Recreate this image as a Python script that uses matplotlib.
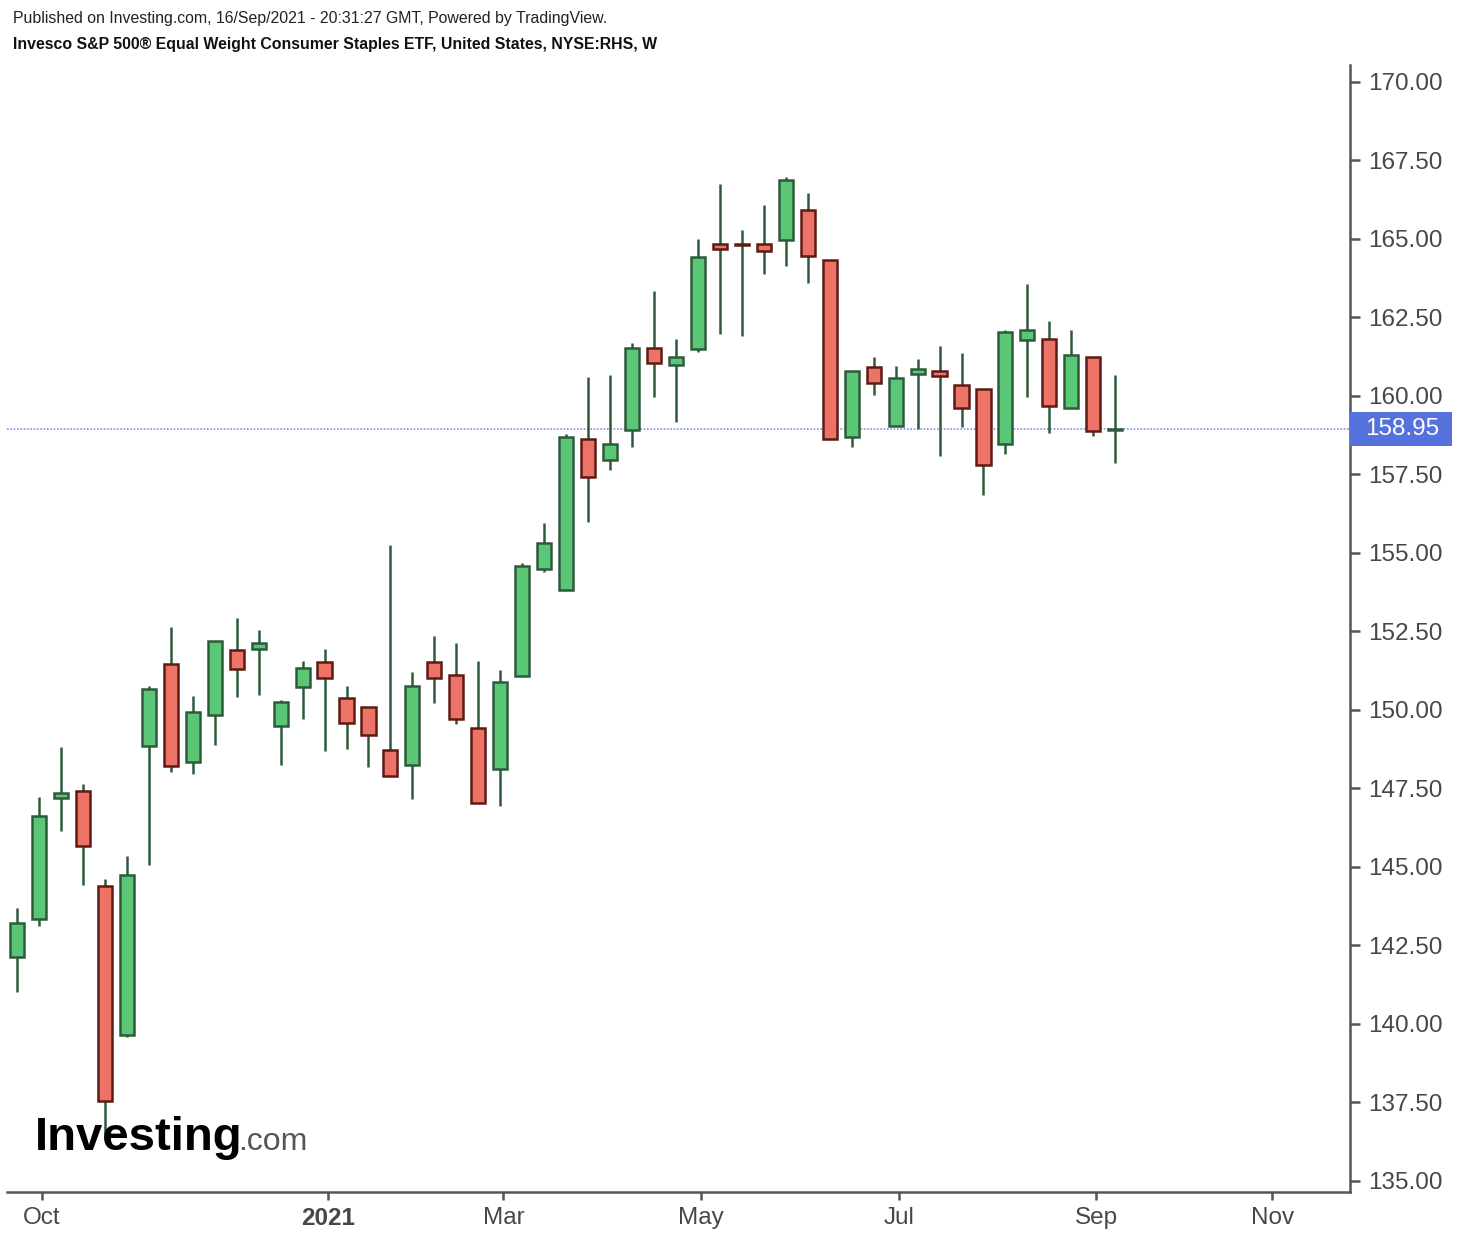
import numpy as np
import pandas as pd
import matplotlib
matplotlib.use('Agg')
import matplotlib.pyplot as plt
import matplotlib.dates as mdates
from matplotlib.patches import Rectangle

plt.rcParams['font.family'] = ['Liberation Sans', 'DejaVu Sans']

# weekly candles, RHS, Sep 2020 - Sep 2021
week_start = '2020-09-28'
opens = [142.13, 143.34, 147.20, 147.42, 144.39, 139.65, 148.85, 151.46, 148.34, 149.84,
         151.91, 151.94, 149.49, 150.73, 151.53, 150.38, 150.10, 148.73, 148.25, 151.53,
         151.11, 149.43, 148.12, 151.08, 154.49, 153.82, 158.63, 157.96, 158.92, 161.53,
         160.99, 161.50, 164.84, 164.84, 164.84, 164.97, 165.92, 164.33, 158.69, 160.92,
         159.04, 160.70, 160.80, 160.35, 160.22, 158.47, 161.78, 161.82, 159.62, 161.24,
         158.90]
highs = [143.69, 147.23, 148.82, 147.64, 144.62, 145.35, 150.76, 152.64, 150.45, 152.20,
         152.93, 152.55, 150.32, 151.56, 151.94, 150.76, 150.10, 155.25, 151.21, 152.36,
         152.13, 151.56, 151.27, 154.68, 155.96, 158.79, 160.61, 160.67, 161.69, 163.34,
         161.82, 165.00, 166.75, 165.29, 166.08, 166.97, 166.46, 164.33, 160.80, 161.24,
         160.96, 161.18, 161.59, 161.37, 160.22, 162.10, 163.57, 162.39, 162.10, 161.24,
         160.67]
lows = [141.02, 143.12, 146.15, 144.43, 136.30, 139.59, 145.06, 148.03, 147.96, 148.89,
        150.41, 150.48, 148.25, 149.71, 148.69, 148.76, 148.18, 147.90, 147.17, 150.22,
        149.55, 147.04, 146.94, 151.08, 154.39, 153.82, 155.99, 157.64, 158.38, 159.97,
        159.17, 161.40, 161.97, 161.91, 163.89, 164.14, 163.60, 158.63, 158.38, 160.03,
        159.04, 158.95, 158.09, 159.01, 156.85, 158.15, 159.97, 158.82, 159.62, 158.73,
        157.87]
closes = [143.22, 146.62, 147.36, 145.67, 137.55, 144.75, 150.67, 148.22, 149.94, 152.20,
          151.31, 152.13, 150.25, 151.34, 151.02, 149.59, 149.20, 147.90, 150.76, 151.02,
          149.71, 147.04, 150.89, 154.59, 155.32, 158.69, 157.42, 158.47, 161.53, 161.05,
          161.24, 164.43, 164.68, 164.80, 164.62, 166.88, 164.46, 158.63, 160.80, 160.41,
          160.57, 160.86, 160.64, 159.62, 157.80, 162.04, 162.10, 159.68, 161.31, 158.89,
          158.95]
last_price = 158.95

tick_dates = ['2020-10-05', '2021-01-04', '2021-03-01', '2021-05-03',
              '2021-07-05', '2021-09-06', '2021-11-01']
tick_labels = ['Oct', '2021', 'Mar', 'May', 'Jul', 'Sep', 'Nov']

df = pd.DataFrame({'open': opens, 'high': highs, 'low': lows, 'close': closes})
df.index = pd.date_range(week_start, periods=len(df), freq='7D')
x = mdates.date2num(df.index.to_pydatetime())

up = df['close'] >= df['open']
green, green_edge = '#5bc776', '#2e5a3c'
red, red_edge = '#ec7366', '#5e1b15'

fig = plt.figure(figsize=(14.58, 12.38), dpi=100)
ax = fig.add_axes([0.0048, 0.0372, 0.9211, 0.9103])

# wicks
ax.vlines(x, df['low'], df['high'], color='#2e5a3c', lw=1.8, zorder=2)

# bodies
body_lo = np.minimum(df['open'], df['close'])
body_h = np.maximum(np.abs(df['close'] - df['open']), 0.03)
ax.bar(x[up], body_h[up], bottom=body_lo[up], width=4.5, color=green,
       edgecolor=green_edge, linewidth=1.8, zorder=3)
ax.bar(x[~up], body_h[~up], bottom=body_lo[~up], width=4.5, color=red,
       edgecolor=red_edge, linewidth=1.8, zorder=3)

# last price line + label on the price scale
ax.axhline(last_price, color='#7d92ea', lw=1.2, ls=(0, (1, 1)), zorder=1)
trans = ax.get_yaxis_transform()
ax.add_patch(Rectangle((1.0, last_price - 0.53), 0.076, 1.06, transform=trans,
                       fc='#5572dc', ec='none', clip_on=False, zorder=5))
ax.text(1.0115, last_price, '%.2f' % last_price, transform=trans,
        ha='left', va='center', color='white', fontsize=17.5, clip_on=False, zorder=6)

ax.set_xlim(x[0] - 3.2, x[-1] + 74.8)
ax.set_ylim(134.65, 170.54)

# axes styling
for s in ['top', 'left']:
    ax.spines[s].set_visible(False)
for s in ['right', 'bottom']:
    ax.spines[s].set_color('#555555')
    ax.spines[s].set_linewidth(1.8)

ax.yaxis.tick_right()
ax.set_yticks(np.arange(135, 170.01, 2.5))
ax.set_yticklabels(['%.2f' % v for v in np.arange(135, 170.01, 2.5)])
ax.tick_params(axis='y', length=7, width=1.8, color='#555555', labelsize=17.5,
               labelcolor='#474747', pad=6)

ax.set_xticks(mdates.date2num(pd.to_datetime(tick_dates).to_pydatetime()) + 1)
ax.set_xticklabels(tick_labels)
ax.tick_params(axis='x', length=6, width=1.8, color='#555555', labelsize=17.5,
               labelcolor='#474747', pad=5)
for lbl in ax.get_xticklabels():
    if lbl.get_text() == '2021':
        lbl.set_fontweight('bold')

# header
fig.text(13 / 1458, 1 - 18 / 1238, 'Published on Investing.com, 16/Sep/2021 - 20:31:27 GMT, Powered by TradingView.',
         ha='left', va='center', fontsize=11.4, color='#222222')
fig.text(13 / 1458, 1 - 44 / 1238, 'Invesco S&P 500® Equal Weight Consumer Staples ETF, United States, NYSE:RHS, W',
         ha='left', va='center', fontsize=11.4, fontweight='bold', color='#111111')

# logo
fig.text(35 / 1458, 1 - 1138 / 1238, 'Investing', ha='left', va='center', fontsize=34,
         fontweight='bold', color='black', zorder=10)
fig.text(238 / 1458, 1 - 1142 / 1238, '.com', ha='left', va='center', fontsize=23,
         color='#555555', zorder=10)

fig.savefig('out.png', dpi=100, facecolor='white')
